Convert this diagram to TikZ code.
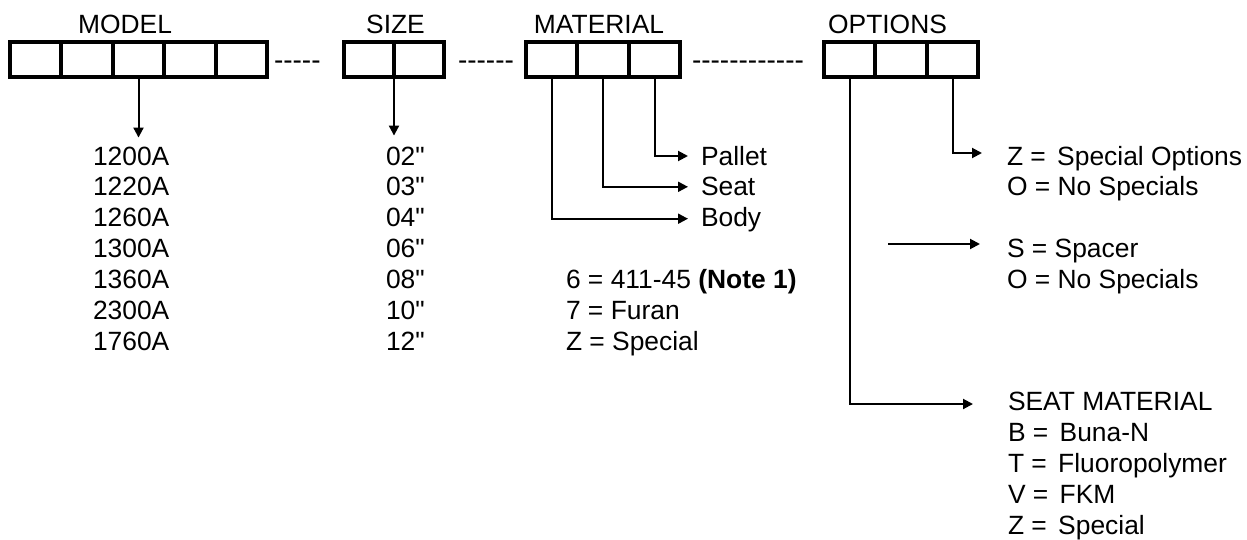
\documentclass[tikz,border=0pt]{standalone}
\usepackage{fontspec}
\newfontfamily\arialfont{Liberation Sans}
\usepackage{tikz}
\usetikzlibrary{arrows.meta, positioning}
\tikzset{every node/.style={font=\arialfont\fontsize{13.2}{15.4}\selectfont}}

\begin{document}
\begin{tikzpicture}[x=0.5pt, y=-0.5pt, line width=1pt, >={Triangle[length=5pt, width=5pt]},
  cell/.style={draw, minimum width=24.7pt, minimum height=16.5pt, inner sep=0pt},
  boxframe/.style={line width=2pt},
  heading/.style={anchor=base, inner sep=0pt},
  entry/.style={anchor=base west, inner sep=0pt},
  dashrow/.style={anchor=base west, inner sep=0pt, font=\arialfont\fontsize{14}{16}\selectfont},
  conn/.style={->, line width=1pt}]
\useasboundingbox (0,0) rectangle (1247,540);

% code boxes
\node[cell] (m1) at (35.7,59.5) {};
\node[cell, right=0pt of m1] (m2) {};
\node[cell, right=0pt of m2] (m3) {};
\node[cell, right=0pt of m3] (m4) {};
\node[cell, right=0pt of m4] (m5) {};
\draw[boxframe] (m1.north west) rectangle (m5.south east);
\draw[boxframe] (m4.north east) -- (m4.south east);

\node[cell, minimum width=24pt] (s1) at (369,59.5) {};
\node[cell, minimum width=24pt, right=0pt of s1] (s2) {};
\draw[boxframe] (s1.north west) rectangle (s2.south east);

\node[cell] (mt1) at (551.7,59.5) {};
\node[cell, right=0pt of mt1] (mt2) {};
\node[cell, right=0pt of mt2] (mt3) {};
\draw[boxframe] (mt1.north west) rectangle (mt3.south east);

\node[cell] (o1) at (849.7,59.5) {};
\node[cell, right=0pt of o1] (o2) {};
\node[cell, right=0pt of o2] (o3) {};
\draw[boxframe] (o1.north west) rectangle (o3.south east);

% headings and dashes
\node[heading] (tModel) at (125,34) {MODEL};
\node[heading] (tSize) at (395.5,34) {SIZE};
\node[heading] (tMaterial) at (599,34) {MATERIAL};
\node[heading] (tOptions) at (887.5,34) {OPTIONS};
\node[dashrow] (d1) at (273,70) {-----};
\node[dashrow] (d2) at (457,70) {------};
\node[dashrow] (d3) at (691,70) {------------};

% model and size lists
\node[entry] (mdl1) at (92,165) {1200A};
\node[entry] (mdl2) at (92,195.8) {1220A};
\node[entry] (mdl3) at (92,226.7) {1260A};
\node[entry] (mdl4) at (92,257.5) {1300A};
\node[entry] (mdl5) at (92,288.3) {1360A};
\node[entry] (mdl6) at (92,319.2) {2300A};
\node[entry] (mdl7) at (92,350) {1760A};
\node[entry] (sz1) at (385,165) {02"};
\node[entry] (sz2) at (385,195.8) {03"};
\node[entry] (sz3) at (385,226.7) {04"};
\node[entry] (sz4) at (385,257.5) {06"};
\node[entry] (sz5) at (385,288.3) {08"};
\node[entry] (sz6) at (385,319.2) {10"};
\node[entry] (sz7) at (385,350) {12"};

% material
\node[entry] (pallet) at (700,165) {Pallet};
\node[entry] (seat) at (700,195.8) {Seat};
\node[entry] (body) at (700,226.7) {Body};
\node[entry] (mat6) at (565,288.3) {6 = 411-45 \textbf{(Note 1)}};
\node[entry] (mat7) at (565,319.2) {7 = Furan};
\node[entry] (matZ) at (565,350) {Z = Special};

% options
\node[entry] (zopt) at (1006,165) {Z = \hspace{2pt}Special Options};
\node[entry] (nospec1) at (1006,195.8) {O = No Specials};
\node[entry] (spacer) at (1006,257.5) {S = Spacer};
\node[entry] (nospec2) at (1006,288.3) {O = No Specials};
\node[entry] (seatmat) at (1007,410) {SEAT MATERIAL};
\node[entry] (buna) at (1007,441) {B = \hspace{2pt}Buna-N};
\node[entry] (fluoro) at (1007,472) {T = \hspace{2pt}Fluoropolymer};
\node[entry] (fkm) at (1007,503) {V = \hspace{2pt}FKM};
\node[entry] (zspec) at (1007,534) {Z = \hspace{2pt}Special};

% connectors
\draw[conn, shorten >=4pt] (m3.south) -- (m3.south |- mdl1.north);
\draw[conn, shorten >=5pt] (s1.south east) -- (s1.south east |- sz1.north);
\draw[conn, shorten >=6pt] (mt3.south) |- ([yshift=4.5pt]pallet.base west);
\draw[conn, shorten >=6pt] (mt2.south) |- ([yshift=4.5pt]seat.base west);
\draw[conn, shorten >=6pt] (mt1.south) |- ([yshift=4pt]body.base west);
\draw[conn, shorten >=12pt] (o3.south) |- ([yshift=6pt]zopt.base west);
\coordinate (spcStart) at (888,244);
\draw[conn, shorten >=13pt] (spcStart) -- (spcStart -| spacer.base west);
\draw[conn, shorten >=17pt] (o1.south) |- ([yshift=3pt]seatmat.base west);
\end{tikzpicture}
\end{document}
